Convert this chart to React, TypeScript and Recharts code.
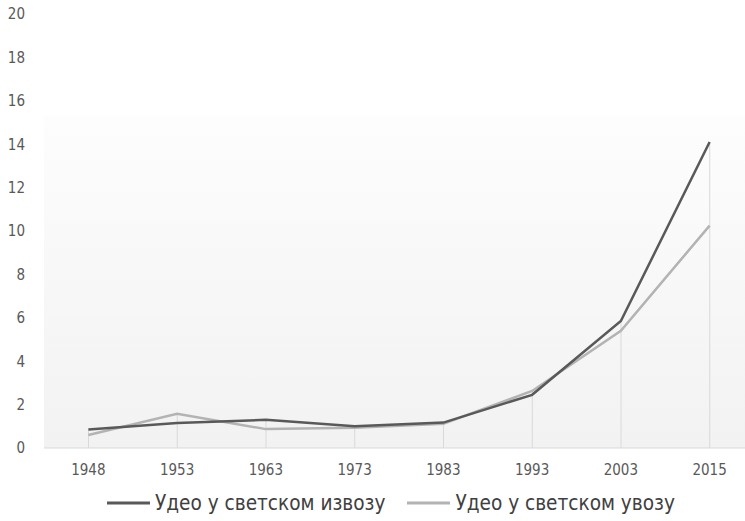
import React from 'react'
import {
  ComposedChart, Line, Bar, XAxis, YAxis, ReferenceArea, Legend,
} from 'recharts'

const years = ['1948', '1953', '1963', '1973', '1983', '1993', '2003', '2015']
const exportShare = [0.85, 1.15, 1.3, 1.0, 1.17, 2.45, 5.85, 14.1]
const importShare = [0.6, 1.58, 0.87, 0.93, 1.12, 2.63, 5.4, 10.25]
const yTicks = [0, 2, 4, 6, 8, 10, 12, 14, 16, 18, 20]

const exportName = 'Удео у светском извозу'
const importName = 'Удео у светском увозу'

const data = years.map((y, i) => ({
  year: y,
  exp: exportShare[i],
  imp: importShare[i],
  top: Math.max(exportShare[i], importShare[i]),
}))

const font = '"DejaVu Sans Condensed", sans-serif'

function LegendBox() {
  const item = (color: string, label: string, ml: number) => (
    <div style={{ display: 'flex', alignItems: 'center', marginLeft: ml }}>
      <svg width={43} height={4}>
        <line x1={0} y1={2} x2={43} y2={2} stroke={color} strokeWidth={3} />
      </svg>
      <span style={{ marginLeft: 5, fontSize: 20.6, color: '#404040', fontFamily: font }}>{label}</span>
    </div>
  )
  return (
    <div style={{ display: 'flex', alignItems: 'center', height: 37 }}>
      {item('#595959', exportName, 107)}
      {item('#b3b3b3', importName, 22)}
    </div>
  )
}

export default function App() {
  return (
    <div style={{ position: 'absolute', left: 0, top: 0, width: 745, height: 521, overflow: 'hidden', background: '#fff' }}>
      <ComposedChart width={760} height={521} data={data} margin={{ top: 14, right: 6, left: 0, bottom: 0 }}>
        <defs>
          <linearGradient id="bg" x1="0" y1="0" x2="0" y2="1">
            <stop offset="0%" stopColor="#fdfdfd" />
            <stop offset="100%" stopColor="#f2f2f2" />
          </linearGradient>
        </defs>
        <ReferenceArea y1={0} y2={15.3} fill="url(#bg)" fillOpacity={1} stroke="none" />
        <XAxis
          dataKey="year"
          height={36}
          tick={{ fill: '#595959', fontSize: 15, fontFamily: font }}
          tickLine={false}
          axisLine={{ stroke: '#d9d9d9' }}
          tickMargin={10}
        />
        <YAxis
          width={44}
          domain={[0, 20]}
          ticks={yTicks}
          tick={{ fill: '#595959', fontSize: 15, fontFamily: font }}
          tickLine={false}
          axisLine={false}
          tickMargin={13}
        />
        <Bar dataKey="top" barSize={1} fill="#d9d9d9" isAnimationActive={false} legendType="none" />
        <Line type="linear" dataKey="imp" name={importName} stroke="#b3b3b3" strokeWidth={2.5} dot={false} isAnimationActive={false} />
        <Line type="linear" dataKey="exp" name={exportName} stroke="#595959" strokeWidth={2.5} dot={false} isAnimationActive={false} />
        <Legend verticalAlign="bottom" content={() => <LegendBox />} wrapperStyle={{ left: 0, width: 745 }} />
      </ComposedChart>
    </div>
  )
}
